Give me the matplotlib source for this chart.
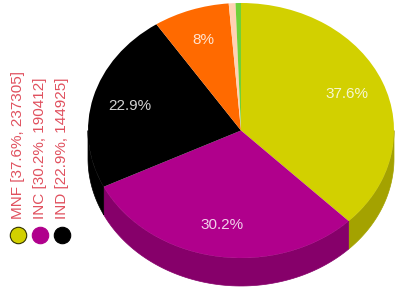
import numpy as np
import matplotlib
matplotlib.use("Agg")
import matplotlib.pyplot as plt
from matplotlib.patches import Polygon

# ---- data ----
labels = ["MNF", "INC", "IND", "OTH", "X1", "X2"]
values = [237305, 190412, 144925, 50800, 4500, 3600]
legend_count = 3
top_colors = ["#d2d000", "#b0008c", "#000000", "#ff6a00", "#ffd2b4", "#6fd13a"]
side_colors = ["#a4a200", "#86006a", "#000000", "#c85000", "#d8a888", "#4fa02a"]

W, H = 397, 291
fig = plt.figure(figsize=(W / 100, H / 100), dpi=100)
fig.patch.set_facecolor("white")

# pie geometry (pixels)
cx, cy, rx, ry, depth = 241.0, 130.5, 153.0, 127.5, 28.0

ax = fig.add_axes([0, 0, 1, 1])
ax.axis("off")

total = sum(values)
pcts = [v / total * 100 for v in values]


def fmt(p):
    if p < 2:
        return ""
    s = f"{p:.1f}"
    if s.endswith(".0"):
        s = s[:-2]
    return s + "%"


wedges, _, autotexts = ax.pie(
    values, colors=top_colors, startangle=90, counterclock=False,
    autopct=fmt, pctdistance=0.75, radius=1.0, center=(0, 0),
    wedgeprops=dict(linewidth=0, zorder=3),
    textprops=dict(color="white", alpha=0.82, fontsize=11,
                   family=["Liberation Sans", "DejaVu Sans"]))
for t in autotexts:
    t.set_zorder(5)

ax.set_aspect("auto")
ax.set_xlim(-cx / rx, (W - cx) / rx)
ax.set_ylim((cy - H) / ry, cy / ry)
d = depth / ry

# sides (front half only)
for w, sc in zip(wedges, side_colors):
    a, b = w.theta1, w.theta2
    for k in (-1, 0, 1):
        lo = max(a, 180 + 360 * k)
        hi = min(b, 360 + 360 * k)
        if hi > lo:
            t = np.radians(np.linspace(lo, hi, 80))
            xs = np.cos(t)
            ys = np.sin(t)
            pts = np.concatenate([np.column_stack([xs, ys]),
                                  np.column_stack([xs[::-1], ys[::-1] - d])])
            ax.add_patch(Polygon(pts, closed=True, facecolor=sc,
                                 edgecolor=sc, linewidth=0.5, zorder=2))

# legend (rotated text + circle markers)
lax = fig.add_axes([0, 0, 1, 1])
lax.axis("off")
lax.set_xlim(0, W)
lax.set_ylim(H, 0)
lx0, lstep, ly_text, ly_mark = 18, 22, 219, 235
for i in range(legend_count):
    x = lx0 + i * lstep
    txt = f"{labels[i]} [{pcts[i]:.1f}%, {values[i]}]"
    lax.text(x, ly_text, txt, rotation=90, ha="center", va="bottom",
             color="#e0505e", fontsize=11,
             family=["Liberation Sans", "DejaVu Sans"])
    lax.scatter([x], [ly_mark], s=140, color=top_colors[i],
                edgecolors="#333300" if i == 0 else top_colors[i],
                linewidths=0.8, zorder=4)

fig.savefig("out.png", dpi=100, facecolor="white")
